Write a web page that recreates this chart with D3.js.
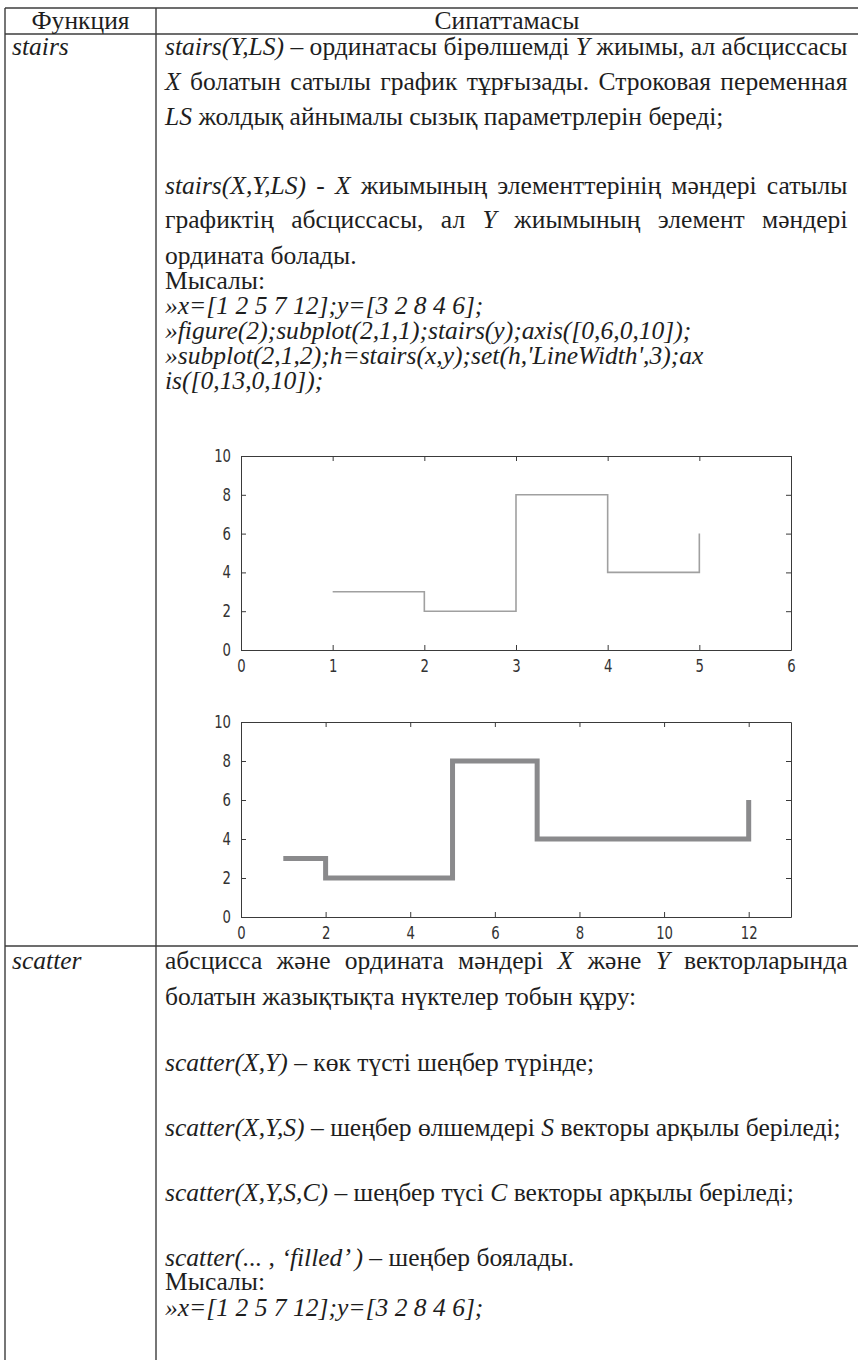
<!DOCTYPE html>
<html>
<head>
<meta charset="utf-8">
<script src="https://cdn.jsdelivr.net/npm/d3@7"></script>
<style>
  body { margin: 0; background: #fff; }
  .txt text { font-family: "Liberation Serif", "Times New Roman", serif; font-size: 26px; fill: #1e1e1e; }
  .ax text { font-family: "DejaVu Sans", sans-serif; font-size: 17px; fill: #333; }
  .ax path, .ax line { stroke: #3a3a3a; }
</style>
</head>
<body>
<div id="page"></div>
<script>
// values of the two stairs plots
var yVals = [3, 2, 8, 4, 6];
var xVals1 = [1, 2, 3, 4, 5];      // stairs(y): abscissa is the index
var xVals2 = [1, 2, 5, 7, 12];
var xDomain1 = [0, 6];
var xDomain2 = [0, 13];
var yDomain = [0, 10];
var xTicks1 = [0, 1, 2, 3, 4, 5, 6];
var xTicks2 = [0, 2, 4, 6, 8, 10, 12];
var yTicks = [0, 2, 4, 6, 8, 10];

var W = 858, H = 1360;
var svg = d3.select("#page").append("svg").attr("width", W).attr("height", H);

// table frame
var colL = 5, colM = 156, rowTop = 8, rowHead = 34, rowDiv = 946;
var frame = svg.append("g").attr("stroke", "#3c3c3c").attr("stroke-width", 1.4);
frame.append("line").attr("x1", colL).attr("x2", W).attr("y1", rowTop).attr("y2", rowTop);
frame.append("line").attr("x1", colL).attr("x2", W).attr("y1", rowHead).attr("y2", rowHead);
frame.append("line").attr("x1", colL).attr("x2", W).attr("y1", rowDiv).attr("y2", rowDiv);
frame.append("line").attr("x1", colL).attr("x2", colL).attr("y1", rowTop).attr("y2", H);
frame.append("line").attr("x1", colM).attr("x2", colM).attr("y1", rowTop).attr("y2", H);

// text lines: [x, baseline, parts, justified]  (parts: [text, italic])
var tx = 165, rightEdge = 848;
var lines = [
  [12, 55, [["stairs", 1]]],
  [tx, 55, [["stairs(Y,LS)", 1], [" – ординатасы бірөлшемді "], ["Y", 1], [" жиымы, ал абсциссасы"]], 1],
  [tx, 90, [["X", 1], [" болатын сатылы график тұрғызады. Строковая переменная"]], 1],
  [tx, 125, [["LS", 1], [" жолдық айнымалы сызық параметрлерін береді;"]]],
  [tx, 194, [["stairs(X,Y,LS) - X", 1], [" жиымының элементтерінің мәндері сатылы"]], 1],
  [tx, 228, [["графиктің абсциссасы, ал "], ["Y", 1], [" жиымының элемент мәндері"]], 1],
  [tx, 264, [["ордината болады."]]],
  [tx, 289, [["Мысалы:"]]],
  [tx, 314, [["»x=[1 2 5 7 12];y=[3 2 8 4 6];", 1]]],
  [tx, 339, [["»figure(2);subplot(2,1,1);stairs(y);axis([0,6,0,10]);", 1]]],
  [tx, 364, [["»subplot(2,1,2);h=stairs(x,y);set(h,'LineWidth',3);ax", 1]]],
  [tx, 389, [["is([0,13,0,10]);", 1]]],
  [12, 969, [["scatter", 1]]],
  [tx, 969, [["абсцисса және ордината мәндері "], ["X", 1], [" және "], ["Y", 1], [" векторларында"]], 1],
  [tx, 1005, [["болатын жазықтықта нүктелер тобын құру:"]]],
  [tx, 1071, [["scatter(X,Y)", 1], [" – көк түсті шеңбер түрінде;"]]],
  [tx, 1136, [["scatter(X,Y,S)", 1], [" – шеңбер өлшемдері "], ["S", 1], [" векторы арқылы беріледі;"]]],
  [tx, 1201, [["scatter(X,Y,S,C)", 1], [" – шеңбер түсі "], ["C", 1], [" векторы арқылы беріледі;"]]],
  [tx, 1266, [["scatter(... ,  ‘filled’ )", 1], [" – шеңбер боялады."]]],
  [tx, 1290, [["Мысалы:"]]],
  [tx, 1316, [["»x=[1 2 5 7 12];y=[3 2 8 4 6];", 1]]]
];

var tg = svg.append("g").attr("class", "txt");

function addLine(l) {
  var g = tg.append("g");
  var t = g.append("text");
  l[2].forEach(function (p) {
    t.append("tspan").attr("font-style", p[1] ? "italic" : "normal").text(p[0]);
  });
  return { g: g, t: t, str: l[2].map(function (p) { return p[0]; }).join(""), w0: t.node().getComputedTextLength() };
}

var made = lines.map(addLine);
// the tightest justified line sets the condensing of the book face
var squeeze = (rightEdge - tx) / made[1].w0;

made.forEach(function (m, i) {
  var l = lines[i];
  if (l[3]) {
    var gaps = (m.str.match(/ /g) || []).length;
    m.t.style("word-spacing", (((rightEdge - tx) / squeeze - m.w0) / gaps) + "px");
  }
  m.g.attr("transform", "translate(" + l[0] + "," + l[1] + ") scale(" + squeeze + ",1)");
});

// header, centred in each cell
[["Функция", (colL + colM) / 2], ["Сипаттамасы", (colM + W) / 2]].forEach(function (h) {
  tg.append("g").attr("transform", "translate(" + h[1] + ",29) scale(" + squeeze + ",1)")
    .append("text").attr("text-anchor", "middle").text(h[0]);
});

// one stairs subplot
var narrow = 0.78;   // tall narrow matlab tick font
function stairsPlot(top, bottom, xs, ys, xDom, xTicks, lineW, lineColor) {
  var left = 241, right = 791;
  var x = d3.scaleLinear().domain(xDom).range([left, right]);
  var y = d3.scaleLinear().domain(yDomain).range([bottom, top]);
  var g = svg.append("g").attr("class", "ax");
  var fmt = d3.format("d");

  g.append("g").attr("transform", "translate(0," + bottom + ")")
    .call(d3.axisBottom(x).tickValues(xTicks).tickFormat(fmt).tickSizeInner(-5).tickSizeOuter(0).tickPadding(10));
  g.append("g").attr("transform", "translate(0," + top + ")")
    .call(d3.axisTop(x).tickValues(xTicks).tickSizeInner(-5).tickSizeOuter(0).tickFormat(""));
  g.append("g").attr("transform", "translate(" + left + ",0)")
    .call(d3.axisLeft(y).tickValues(yTicks).tickFormat(fmt).tickSizeInner(-5).tickSizeOuter(0).tickPadding(10 / narrow));
  g.append("g").attr("transform", "translate(" + right + ",0)")
    .call(d3.axisRight(y).tickValues(yTicks).tickSizeInner(-5).tickSizeOuter(0).tickFormat(""));
  g.selectAll(".tick text").attr("transform", "scale(" + narrow + ",1)");

  var pts = xs.map(function (d, i) { return [d, ys[i]]; });
  var line = d3.line().x(function (d) { return x(d[0]); }).y(function (d) { return y(d[1]); })
    .curve(d3.curveStepAfter);
  svg.append("path").datum(pts).attr("d", line)
    .attr("fill", "none").attr("stroke", lineColor).attr("stroke-width", lineW)
    .attr("stroke-linejoin", "miter").attr("stroke-linecap", "butt");
}

stairsPlot(456, 650, xVals1, yVals, xDomain1, xTicks1, 1.6, "#a0a0a0");
stairsPlot(722, 917, xVals2, yVals, xDomain2, xTicks2, 5, "#8a8a8c");
</script>
</body>
</html>
